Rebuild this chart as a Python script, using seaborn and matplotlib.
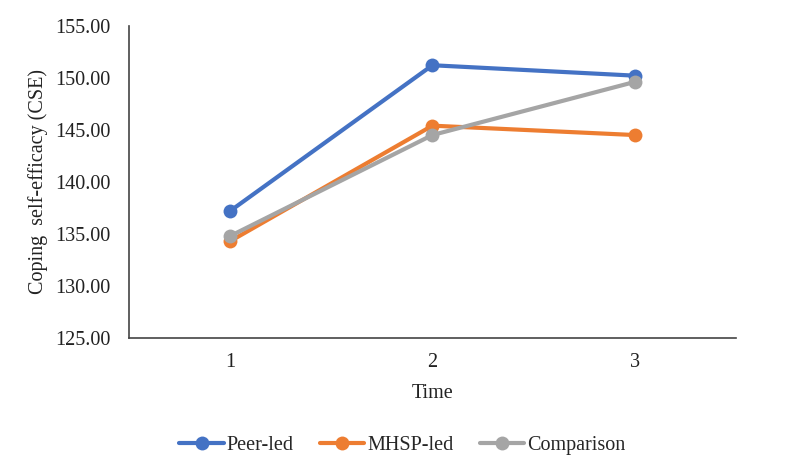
import matplotlib
matplotlib.use("Agg")
import matplotlib.pyplot as plt
import seaborn as sns
import pandas as pd
from matplotlib.lines import Line2D

times = [1, 2, 3]
peer_led = [137.2, 151.2, 150.2]
mhsp_led = [134.3, 145.4, 144.5]
comparison = [134.8, 144.5, 149.6]
series_names = ["Peer-led", "MHSP-led", "Comparison"]
colors = ["#4472C4", "#ED7D31", "#A5A5A5"]
yticks = [125, 130, 135, 140, 145, 150, 155]

sns.set_theme(style="white")
plt.rcParams["font.family"] = ["Liberation Serif", "DejaVu Serif"]

rows = []
for name, vals in zip(series_names, [peer_led, mhsp_led, comparison]):
    for t, v in zip(times, vals):
        rows.append({"Time": t, "CSE": v, "Group": name})
df = pd.DataFrame(rows)

FS = 14.5
fig = plt.figure(figsize=(8, 4.75), dpi=100)
ax = fig.add_axes([0.161, 0.288, 0.759, 0.658])
sns.lineplot(data=df, x="Time", y="CSE", hue="Group", hue_order=series_names,
             palette=colors, marker="o", markersize=10, markeredgewidth=0,
             linewidth=3, ax=ax, legend=False)

ax.set_xlim(0.5, 3.5)
ax.set_ylim(125, 155)
ax.set_xticks(times)
ax.set_xticklabels([str(t) for t in times], fontsize=FS)
ax.set_yticks(yticks)
ax.set_yticklabels([f"{v:.2f}" for v in yticks], fontsize=FS)
ax.tick_params(axis="x", length=0, pad=11, colors="#222222")
ax.tick_params(axis="y", length=0, pad=13, colors="#222222")
ax.set_xlabel("Time", fontsize=FS, color="#222222", labelpad=8)
ax.set_ylabel("Coping  self-efficacy (CSE)", fontsize=FS, color="#222222", labelpad=5)
for s in ["top", "right"]:
    ax.spines[s].set_visible(False)
for s in ["left", "bottom"]:
    ax.spines[s].set_color("#444444")
    ax.spines[s].set_linewidth(1.2)

handles = [Line2D([0], [0], color=c, lw=3, marker="o", markersize=10, markeredgewidth=0)
           for c in colors]
fig.legend(handles, series_names, loc="center", bbox_to_anchor=(0.503, 0.062), ncol=3,
           frameon=False, fontsize=FS, handlelength=2.2, columnspacing=1.3,
           handletextpad=0.15)

fig.savefig("out.png", dpi=100)
